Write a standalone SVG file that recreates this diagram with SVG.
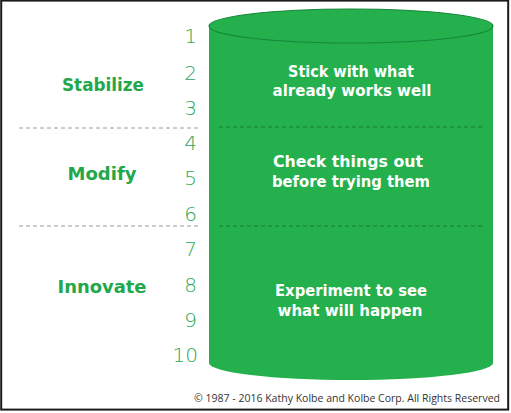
<svg xmlns="http://www.w3.org/2000/svg" width="511" height="413" viewBox="0 0 511 413">
<style>
.num{font-family:"DejaVu Sans","Open Sans",sans-serif;font-weight:200;font-size:20px;fill:#27a857;text-anchor:end}
.lbl{font-family:"DejaVu Sans",sans-serif;font-weight:bold;font-size:17px;fill:#22a84a;text-anchor:middle}
.in{font-family:"DejaVu Sans",sans-serif;font-weight:bold;font-size:15px;fill:#ffffff;text-anchor:middle}
.gd{stroke:#9a9a9a;stroke-width:1;stroke-dasharray:4 3;fill:none}
.dd{stroke:#1b7a36;stroke-width:1;stroke-dasharray:4 3;fill:none}
</style>
<rect x="1.2" y="0.6" width="507" height="409" fill="#ffffff" stroke="#1a1a1a" stroke-width="2"/>
<g id="cylinder">
<path d="M209 26 L209 363 A142 17 0 0 0 493 363 L493 26 Z" fill="#23b04d"/>
<ellipse cx="351" cy="26" rx="142" ry="17" fill="#23b04d" stroke="#17873a" stroke-width="1.2"/>
</g>
<g id="connectors">
<line class="gd" x1="19" y1="128" x2="200" y2="128"/>
<line class="gd" x1="19" y1="226" x2="200" y2="226"/>
<line class="dd" x1="219" y1="127" x2="484" y2="127"/>
<line class="dd" x1="219" y1="226" x2="484" y2="226"/>
</g>
<g id="numbers">
<text class="num" x="197" y="43">1</text>
<text class="num" x="197" y="80">2</text>
<text class="num" x="197" y="115">3</text>
<text class="num" x="197" y="150">4</text>
<text class="num" x="197" y="185">5</text>
<text class="num" x="197" y="221">6</text>
<text class="num" x="197" y="256">7</text>
<text class="num" x="197" y="292">8</text>
<text class="num" x="197" y="327">9</text>
<text class="num" x="198" y="362">10</text>
</g>
<g id="stabilize">
<text class="lbl" x="103" y="91" textLength="82" lengthAdjust="spacingAndGlyphs">Stabilize</text>
<text class="in" x="351" y="77" textLength="126" lengthAdjust="spacingAndGlyphs">Stick with what</text>
<text class="in" x="352" y="96" textLength="159" lengthAdjust="spacingAndGlyphs">already works well</text>
</g>
<g id="modify">
<text class="lbl" x="102" y="180" textLength="69" lengthAdjust="spacingAndGlyphs">Modify</text>
<text class="in" x="348" y="167" textLength="150" lengthAdjust="spacingAndGlyphs">Check things out</text>
<text class="in" x="351" y="187" textLength="158" lengthAdjust="spacingAndGlyphs">before trying them</text>
</g>
<g id="innovate">
<text class="lbl" x="102" y="293" textLength="89" lengthAdjust="spacingAndGlyphs">Innovate</text>
<text class="in" x="351" y="296" textLength="152" lengthAdjust="spacingAndGlyphs">Experiment to see</text>
<text class="in" x="350" y="316" textLength="145" lengthAdjust="spacingAndGlyphs">what will happen</text>
</g>
<text x="194" y="402" font-family="'Open Sans','Liberation Sans',sans-serif" font-size="10.5" fill="#333333" textLength="306" lengthAdjust="spacingAndGlyphs">© 1987 - 2016 Kathy Kolbe and Kolbe Corp. All Rights Reserved</text>
</svg>
